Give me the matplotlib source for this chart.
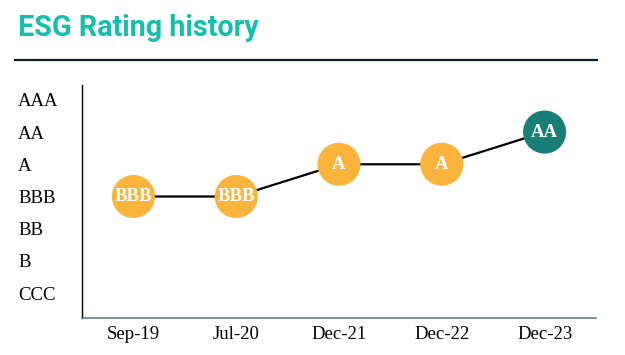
import numpy as np
import matplotlib.pyplot as plt
from matplotlib.lines import Line2D

# rating scale, lowest first
scale = ["CCC", "B", "BB", "BBB", "A", "AA", "AAA"]
dates = ["Sep-19", "Jul-20", "Dec-21", "Dec-22", "Dec-23"]
ratings = ["BBB", "BBB", "A", "A", "AA"]

ORANGE = "#fbb43b"
TEAL = "#177f75"

W, H = 625, 355
fig = plt.figure(figsize=(W / 100, H / 100), dpi=100)

fig.text(18 / W, 1 - 28 / H, "ESG Rating history", family="Roboto",
         fontweight="bold", fontsize=20.7, color="#14bfae", va="center")
fig.add_artist(Line2D([15 / W, 597 / W], [1 - 60 / H, 1 - 60 / H],
                      color="#0d1b2a", lw=1.6, transform=fig.transFigure))

ax = fig.add_axes([82 / W, 37 / H, (596 - 82) / W, (318 - 85) / H])

x = np.arange(len(dates))
y = np.array([scale.index(r) for r in ratings])
cols = [TEAL if scale.index(r) >= scale.index("AA") else ORANGE for r in ratings]

ax.plot(x, y, color="black", lw=1.6, zorder=1)
ax.scatter(x, y, s=31 ** 2, c=cols, edgecolors="none", zorder=2)
for xi, yi, r in zip(x, y, ratings):
    ax.text(xi, yi, r, ha="center", va="center", color="white",
            family="Liberation Serif", fontweight="bold", fontsize=13.5, zorder=3)

ax.set_xlim(-0.5, 4.5)
ax.set_ylim(-0.77, 6.46)
ax.set_xticks(x)
ax.set_xticklabels(dates, family="Liberation Serif", fontsize=13.5)
ax.set_yticks(range(len(scale)))
ax.set_yticklabels(scale, family="Liberation Serif", fontsize=13.5)
for lab in ax.get_yticklabels():
    lab.set_horizontalalignment("left")
ax.tick_params(axis="y", length=0, pad=(82 - 18) * 0.72)
ax.tick_params(axis="x", length=0, pad=6)

for s in ["top", "right"]:
    ax.spines[s].set_visible(False)
ax.spines["left"].set_color("black")
ax.spines["left"].set_linewidth(1)
ax.spines["bottom"].set_color("#6b7b8a")
ax.spines["bottom"].set_linewidth(1.2)

fig.savefig("out.png", dpi=100)
